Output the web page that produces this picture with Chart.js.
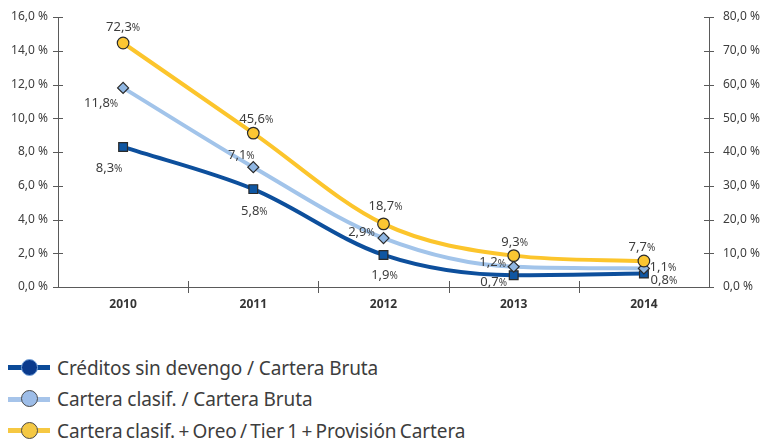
<!DOCTYPE html>
<html>
<head>
<meta charset="utf-8">
<script src="https://cdn.jsdelivr.net/npm/chart.js@4/dist/chart.umd.min.js"></script>
<style>
  html, body { margin: 0; padding: 0; background: #ffffff; }
  #wrap { position: relative; width: 765px; height: 439px; overflow: hidden; font-family: "Noto Sans", sans-serif; }
  #chartBox { position: absolute; left: 0; top: 0; width: 765px; height: 322px; }
  #legend { position: absolute; left: 8px; top: 352px; }
  .item { position: relative; height: 31.5px; display: flex; align-items: center; }
  .icon { position: relative; width: 44px; height: 24px; margin-right: 5px; }
  .icon .ln { position: absolute; left: 0; top: 9.5px; width: 42px; height: 5px; }
  .icon .dot { position: absolute; left: 13px; top: 3px; width: 15px; height: 15px; border-radius: 50%; border-width: 1.5px; border-style: solid; }
  .txt { font-size: 19px; color: #3d3d3d; letter-spacing: -0.1px; }
  .item:nth-child(3) .txt { word-spacing: -1.5px; }
</style>
</head>
<body>
<div id="wrap">
  <div id="chartBox"><canvas id="c"></canvas></div>
  <div id="legend"></div>
</div>
<script>
const categories = ["2010", "2011", "2012", "2013", "2014"];
const seriesNames = [
  "Créditos sin devengo / Cartera Bruta",
  "Cartera clasif. / Cartera Bruta",
  "Cartera clasif.  + Oreo / Tier 1 + Provisión Cartera"
];
const creditosSinDevengo = [8.3, 5.8, 1.9, 0.7, 0.8];
const carteraClasif = [11.8, 7.1, 2.9, 1.2, 1.1];
const carteraOreoTier1 = [72.3, 45.6, 18.7, 9.3, 7.7];
const leftTicks = [0, 2, 4, 6, 8, 10, 12, 14, 16];
const rightTicks = [0, 10, 20, 30, 40, 50, 60, 70, 80];

const fmt = v => v.toFixed(1).replace('.', ',');

// label offsets (styling only) per dataset per point
const labelOffsets = [
  [[-14, 21], [1, 22], [1, 20], [-20, 7], [20, 7]],
  [[-22, 15], [-12, -12], [-22, -6], [-21, -4], [19, -1]],
  [[0, -16], [3, -14], [2, -18], [1, -13], [-2, -14]]
];

const colors = {
  dark: "#0d4f9c",
  light: "#a2c4ea",
  yellow: "#fcc52c"
};

const axisExtras = {
  id: 'axisExtras',
  afterDraw(chart) {
    const ctx = chart.ctx;
    const ca = chart.chartArea;
    ctx.save();
    ctx.strokeStyle = '#5a5a5a';
    ctx.lineWidth = 1;
    const yl = chart.scales.y;
    yl.ticks.forEach(t => {
      const y = Math.round(yl.getPixelForValue(t.value)) + 0.5;
      ctx.beginPath(); ctx.moveTo(ca.left - 5, y); ctx.lineTo(ca.left + 5, y); ctx.stroke();
    });
    const yr = chart.scales.y1;
    yr.ticks.forEach(t => {
      const y = Math.round(yr.getPixelForValue(t.value)) + 0.5;
      ctx.beginPath(); ctx.moveTo(ca.right - 5, y); ctx.lineTo(ca.right + 5, y); ctx.stroke();
    });
    const xs = chart.scales.x;
    for (let i = 1; i < categories.length; i++) {
      const x = Math.round((xs.getPixelForValue(i - 1) + xs.getPixelForValue(i)) / 2) + 0.5;
      ctx.beginPath(); ctx.moveTo(x, ca.bottom - 6); ctx.lineTo(x, ca.bottom + 6); ctx.stroke();
    }
    // data labels
    chart.data.datasets.forEach((ds, di) => {
      const meta = chart.getDatasetMeta(di);
      meta.data.forEach((pt, i) => {
        const off = labelOffsets[di][i];
        const num = fmt(ds.data[i]);
        ctx.font = '13px "Noto Sans", sans-serif';
        const w1 = ctx.measureText(num).width;
        ctx.font = '10px "Noto Sans", sans-serif';
        const w2 = ctx.measureText('%').width;
        const total = w1 + w2;
        const cx = pt.x + off[0];
        const cy = pt.y + off[1];
        ctx.fillStyle = '#3d3d3d';
        ctx.textBaseline = 'middle';
        ctx.textAlign = 'left';
        ctx.font = '13px "Noto Sans", sans-serif';
        ctx.fillText(num, cx - total / 2, cy);
        ctx.font = '10px "Noto Sans", sans-serif';
        ctx.fillText('%', cx - total / 2 + w1, cy + 1);
      });
    });
    ctx.restore();
  }
};

const chart = new Chart(document.getElementById('c'), {
  type: 'line',
  data: {
    labels: categories,
    datasets: [
      {
        label: seriesNames[0], data: creditosSinDevengo, yAxisID: 'y',
        borderColor: colors.dark, borderWidth: 4, cubicInterpolationMode: 'monotone',
        pointStyle: 'rect', pointRadius: 6.2, pointBackgroundColor: '#0f56a2',
        pointBorderColor: '#2b2b2b', pointBorderWidth: 1.2, order: 3
      },
      {
        label: seriesNames[1], data: carteraClasif, yAxisID: 'y',
        borderColor: colors.light, borderWidth: 4, cubicInterpolationMode: 'monotone',
        pointStyle: 'rectRot', pointRadius: 5.5, pointBackgroundColor: '#8fb6e2',
        pointBorderColor: '#2b2b2b', pointBorderWidth: 1.2, order: 2
      },
      {
        label: seriesNames[2], data: carteraOreoTier1, yAxisID: 'y1',
        borderColor: colors.yellow, borderWidth: 4, cubicInterpolationMode: 'monotone',
        pointStyle: 'circle', pointRadius: 5.8, pointBackgroundColor: '#fbc632',
        pointBorderColor: '#2b2b2b', pointBorderWidth: 1.2, order: 1
      }
    ]
  },
  options: {
    responsive: true,
    maintainAspectRatio: false,
    animation: false,
    layout: { padding: { top: 17, left: 0, right: 0, bottom: 0 } },
    plugins: { legend: { display: false }, tooltip: { enabled: false } },
    scales: {
      x: {
        offset: true,
        grid: { display: false, drawTicks: false },
        border: { display: true, color: '#5a5a5a', width: 1 },
        ticks: { padding: 10, color: '#333', font: { family: '"Noto Sans", sans-serif', size: 12, weight: 'bold' } },
        afterFit(s) { s.height = 35; s.paddingLeft = 0; s.paddingRight = 0; }
      },
      y: {
        position: 'left', min: 0, max: 16,
        afterBuildTicks(s) { s.ticks = leftTicks.map(v => ({ value: v })); },
        grid: { display: false, drawTicks: false },
        border: { display: true, color: '#5a5a5a', width: 1 },
        ticks: { padding: 10, color: '#3d3d3d', font: { family: '"Noto Sans", sans-serif', size: 12 },
                 callback: v => fmt(v) + ' %' },
        afterFit(s) { s.width = 58; s.paddingTop = 0; s.paddingBottom = 0; }
      },
      y1: {
        position: 'right', min: 0, max: 80,
        afterBuildTicks(s) { s.ticks = rightTicks.map(v => ({ value: v })); },
        grid: { display: false, drawTicks: false },
        border: { display: true, color: '#5a5a5a', width: 1 },
        ticks: { padding: 14, color: '#3d3d3d', font: { family: '"Noto Sans", sans-serif', size: 12 },
                 callback: v => fmt(v) + ' %' },
        afterFit(s) { s.width = 56; s.paddingTop = 0; s.paddingBottom = 0; }
      }
    }
  },
  plugins: [axisExtras]
});

// HTML legend
const legendStyles = [
  { line: '#0b4a98', fill: '#0a3a8c', border: '#7aa6dc' },
  { line: '#a6c4ea', fill: '#9dbde8', border: '#4a4a4a' },
  { line: '#f6c842', fill: '#f4c844', border: '#4a4a4a' }
];
const legend = document.getElementById('legend');
seriesNames.forEach((name, i) => {
  const st = legendStyles[i];
  const item = document.createElement('div');
  item.className = 'item';
  item.innerHTML = '<div class="icon"><div class="ln" style="background:' + st.line + '"></div>' +
    '<div class="dot" style="background:' + st.fill + ';border-color:' + st.border + '"></div></div>' +
    '<span class="txt"></span>';
  item.querySelector('.txt').textContent = name;
  legend.appendChild(item);
});
</script>
</body>
</html>
